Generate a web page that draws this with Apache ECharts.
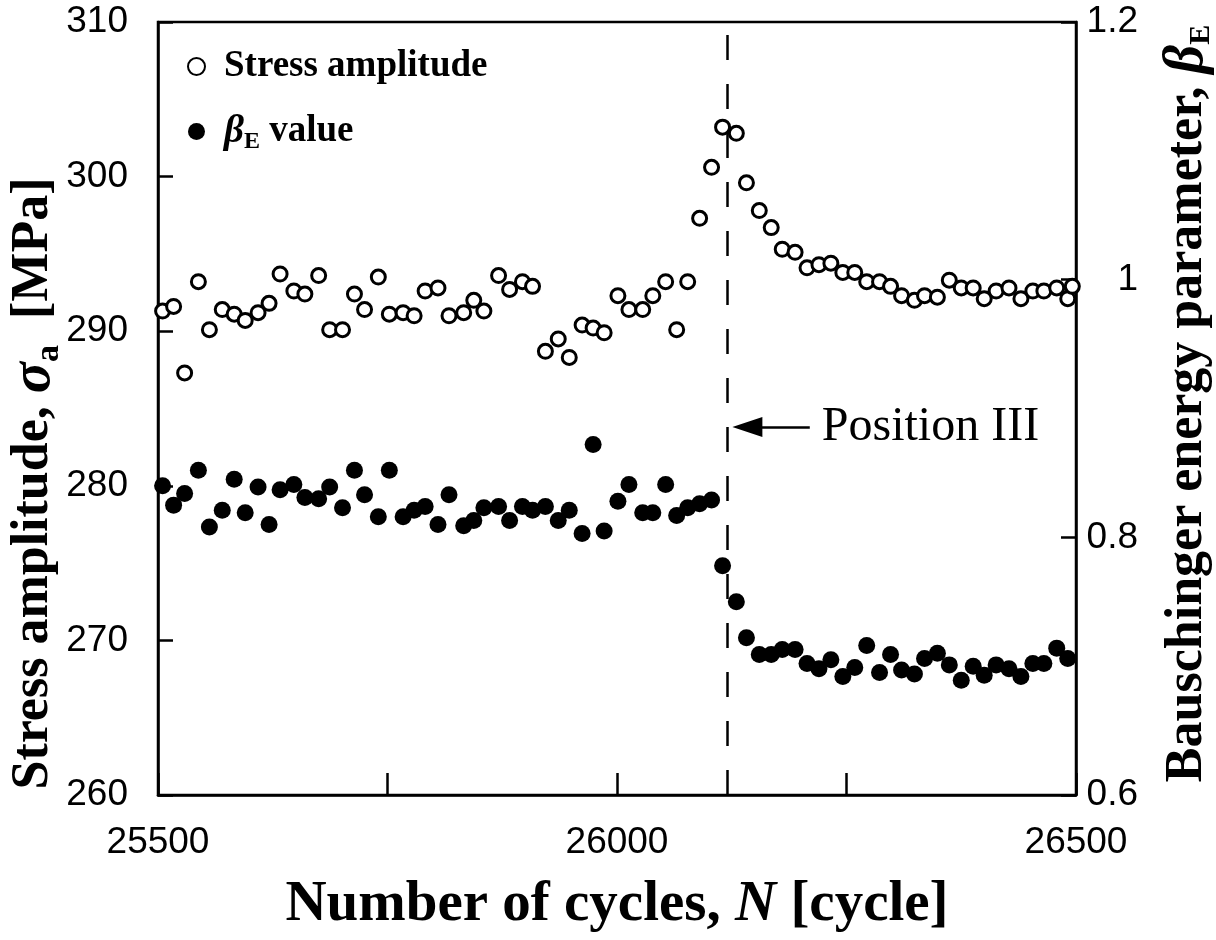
<!DOCTYPE html>
<html>
<head>
<meta charset="utf-8">
<title>Stress amplitude and Bauschinger energy parameter</title>
<script src="https://cdn.jsdelivr.net/npm/echarts@6/dist/echarts.min.js"></script>
<style>
  html, body { margin: 0; padding: 0; background: #fff; overflow: hidden; }
  #chart { width: 1216px; height: 940px; }
</style>
</head>
<body>
<div id="chart"></div>
<script>
// Number of cycles at which each measurement was taken
const cycles = [
  25505, 25517, 25529, 25544, 25556, 25570, 25583, 25595, 25609, 25621,
  25633, 25648, 25660, 25675, 25687, 25701, 25714, 25725, 25740, 25752,
  25767, 25779, 25791, 25805, 25817, 25833, 25844, 25855, 25871, 25883,
  25897, 25908, 25922, 25936, 25948, 25962, 25974, 25986, 26001, 26013,
  26028, 26039, 26053, 26065, 26077, 26090, 26103, 26115, 26130, 26141,
  26155, 26168, 26180, 26194, 26207, 26220, 26233, 26246, 26259, 26272,
  26286, 26298, 26310, 26324, 26335, 26349, 26362, 26375, 26388, 26400,
  26413, 26427, 26440, 26453, 26465, 26479, 26491, 26496
];

// Stress amplitude, MPa (left axis)
const stressAmp = [
  291.3, 291.6, 287.3, 293.2, 290.1, 291.4, 291.1, 290.7, 291.2, 291.8,
  293.7, 292.6, 292.4, 293.6, 290.1, 290.1, 292.4, 291.4, 293.5, 291.1,
  291.2, 291.0, 292.6, 292.8, 291.0, 291.2, 292.0, 291.3, 293.6, 292.7,
  293.2, 292.9, 288.7, 289.5, 288.3, 290.4, 290.2, 289.9, 292.3, 291.4,
  291.4, 292.3, 293.2, 290.1, 293.2, 297.3, 300.6, 303.2, 302.8, 299.6,
  297.8, 296.7, 295.3, 295.1, 294.1, 294.3, 294.4, 293.8, 293.8, 293.2,
  293.2, 292.9, 292.3, 292.0, 292.3, 292.2, 293.3, 292.8, 292.8, 292.1,
  292.6, 292.8, 292.1, 292.6, 292.6, 292.8, 292.1, 292.9
];

// Bauschinger energy parameter (right axis)
const betaE = [
  0.840, 0.825, 0.834, 0.852, 0.808, 0.821, 0.845, 0.819, 0.839, 0.810,
  0.837, 0.841, 0.831, 0.830, 0.839, 0.823, 0.852, 0.833, 0.816, 0.852,
  0.816, 0.821, 0.824, 0.810, 0.833, 0.809, 0.813, 0.823, 0.824, 0.813,
  0.824, 0.821, 0.824, 0.813, 0.821, 0.803, 0.872, 0.805, 0.828, 0.841,
  0.819, 0.819, 0.841, 0.817, 0.823, 0.826, 0.829, 0.778, 0.750, 0.722,
  0.709, 0.709, 0.713, 0.713, 0.702, 0.698, 0.705, 0.692, 0.699, 0.716,
  0.695, 0.709, 0.697, 0.694, 0.706, 0.710, 0.701, 0.689, 0.700, 0.693,
  0.701, 0.698, 0.692, 0.702, 0.702, 0.714, 0.706, null
];

// Axis ranges and ticks
const xTicks = { min: 25500, max: 26500, step: 250, labelStep: 500 };
const leftTicks = { min: 260, max: 310, step: 10 };
const rightTicks = { min: 0.6, max: 1.2, step: 0.2 };

// Transition cycle and its annotation
const positionCycle = 26120;
const positionLabel = 'Position III';
const arrowSpan = [26142, 26210];
const arrowLevel = 283.8;

const serif = '"Liberation Serif", "Times New Roman", Times, serif';
const sans = '"Liberation Sans", Arial, Helvetica, sans-serif';

const stressPoints = cycles.map((c, i) => [c, stressAmp[i]]);
const betaPoints = cycles.map((c, i) => [c, betaE[i]]).filter(p => p[1] !== null);

const chart = echarts.init(document.getElementById('chart'), null, { renderer: 'canvas', width: 1216, height: 940 });

const tickLabel = { color: '#000', fontFamily: sans, fontSize: 37 };

chart.setOption({
  backgroundColor: '#fff',
  animation: false,
  grid: {
    left: 158, right: 140, top: 22, bottom: 145,
    containLabel: false,
    outerBoundsMode: 'none',
    show: true, borderColor: '#000', borderWidth: 2.5, backgroundColor: 'transparent'
  },
  legend: {
    orient: 'vertical',
    left: 182, top: 43,
    itemWidth: 17, itemHeight: 17, itemGap: 27,
    data: ['Stress amplitude', 'beta'],
    formatter: function (name) {
      return name === 'beta' ? '{b|β}{e|E}{t| value}' : '{t|' + name + '}';
    },
    textStyle: {
      color: '#000', fontFamily: serif, fontWeight: 'bold', fontSize: 37,
      padding: [0, 0, 0, 14],
      rich: {
        t: { fontFamily: serif, fontWeight: 'bold', fontSize: 37, lineHeight: 44, verticalAlign: 'middle' },
        b: { fontFamily: serif, fontWeight: 'bold', fontStyle: 'italic', fontSize: 39, lineHeight: 44, verticalAlign: 'middle' },
        e: { fontFamily: serif, fontWeight: 'bold', fontSize: 24, lineHeight: 24, verticalAlign: 'bottom' }
      }
    }
  },
  xAxis: {
    type: 'value',
    min: xTicks.min, max: xTicks.max, interval: xTicks.step,
    name: 'Number of cycles, {n|N} [cycle]',
    nameLocation: 'middle', nameGap: 82, nameMoveOverlap: false,
    nameTextStyle: {
      color: '#000', fontFamily: serif, fontWeight: 'bold', fontSize: 57,
      rich: {
        n: { fontFamily: serif, fontWeight: 'bold', fontStyle: 'italic', fontSize: 57 }
      }
    },
    axisLine: { show: true, lineStyle: { color: '#000', width: 2.5 } },
    axisTick: { show: true, inside: true, length: 22, lineStyle: { color: '#000', width: 2.5 } },
    axisLabel: {
      ...tickLabel, margin: 29,
      formatter: v => (v % xTicks.labelStep === 0 ? String(v) : '')
    },
    splitLine: { show: false }
  },
  yAxis: [
    {
      type: 'value',
      min: leftTicks.min, max: leftTicks.max, interval: leftTicks.step,
      name: 'Stress amplitude, {s|σ}{a|a}  [MPa]',
      nameLocation: 'middle', nameGap: 92, nameRotate: 90, nameMoveOverlap: false,
      nameTextStyle: {
        color: '#000', fontFamily: serif, fontWeight: 'bold', fontSize: 52,
        padding: [0, 150, 0, 0],
        rich: {
          s: { fontFamily: serif, fontWeight: 'bold', fontStyle: 'italic', fontSize: 58, lineHeight: 64, verticalAlign: 'middle' },
          a: { fontFamily: serif, fontWeight: 'bold', fontSize: 34, lineHeight: 34, verticalAlign: 'bottom' }
        }
      },
      axisLine: { show: true, lineStyle: { color: '#000', width: 2.5 } },
      axisTick: { show: true, inside: true, length: 15, lineStyle: { color: '#000', width: 2.5 } },
      axisLabel: { ...tickLabel, margin: 30 },
      splitLine: { show: false }
    },
    {
      type: 'value',
      position: 'right',
      min: rightTicks.min, max: rightTicks.max, interval: rightTicks.step,
      name: 'Bauschinger energy parameter, {b|β}{e|E}',
      nameLocation: 'middle', nameGap: 84, nameRotate: 90, nameMoveOverlap: false,
      nameTextStyle: {
        color: '#000', fontFamily: serif, fontWeight: 'bold', fontSize: 52,
        padding: [0, 0, 0, 10],
        rich: {
          b: { fontFamily: serif, fontWeight: 'bold', fontStyle: 'italic', fontSize: 56, lineHeight: 56, verticalAlign: 'middle' },
          e: { fontFamily: serif, fontWeight: 'bold', fontSize: 30, lineHeight: 30, verticalAlign: 'bottom' }
        }
      },
      axisLine: { show: true, lineStyle: { color: '#000', width: 2.5 } },
      axisTick: { show: true, inside: true, length: 15, lineStyle: { color: '#000', width: 2.5 } },
      axisLabel: { ...tickLabel, margin: 62, align: 'right' },
      splitLine: { show: false }
    }
  ],
  series: [
    {
      name: 'Stress amplitude',
      type: 'scatter',
      yAxisIndex: 0,
      symbol: 'circle',
      symbolSize: 14,
      itemStyle: { color: '#fff', borderColor: '#000', borderWidth: 3, opacity: 1 },
      data: stressPoints,
      z: 3,
      markLine: {
        silent: true,
        animation: false,
        data: [
          [
            { coord: [positionCycle, leftTicks.min], symbol: 'none' },
            { coord: [positionCycle, leftTicks.max], symbol: 'none' }
          ],
          [
            { coord: [arrowSpan[0], arrowLevel], symbol: 'triangle', symbolSize: [20, 30] },
            {
              coord: [arrowSpan[1], arrowLevel], symbol: 'none',
              lineStyle: { type: 'solid', width: 2.5, color: '#000' },
              label: {
                show: true, position: 'end', formatter: positionLabel,
                color: '#000', fontFamily: serif, fontSize: 48, distance: 12
              }
            }
          ]
        ],
        lineStyle: { color: '#000', width: 2.5, type: [25, 24], dashOffset: 0 },
        label: { show: false },
        emphasis: { disabled: true }
      }
    },
    {
      name: 'beta',
      type: 'scatter',
      yAxisIndex: 1,
      symbol: 'circle',
      symbolSize: 17,
      itemStyle: { color: '#000', opacity: 1 },
      data: betaPoints,
      z: 4
    }
  ]
});
</script>
</body>
</html>
